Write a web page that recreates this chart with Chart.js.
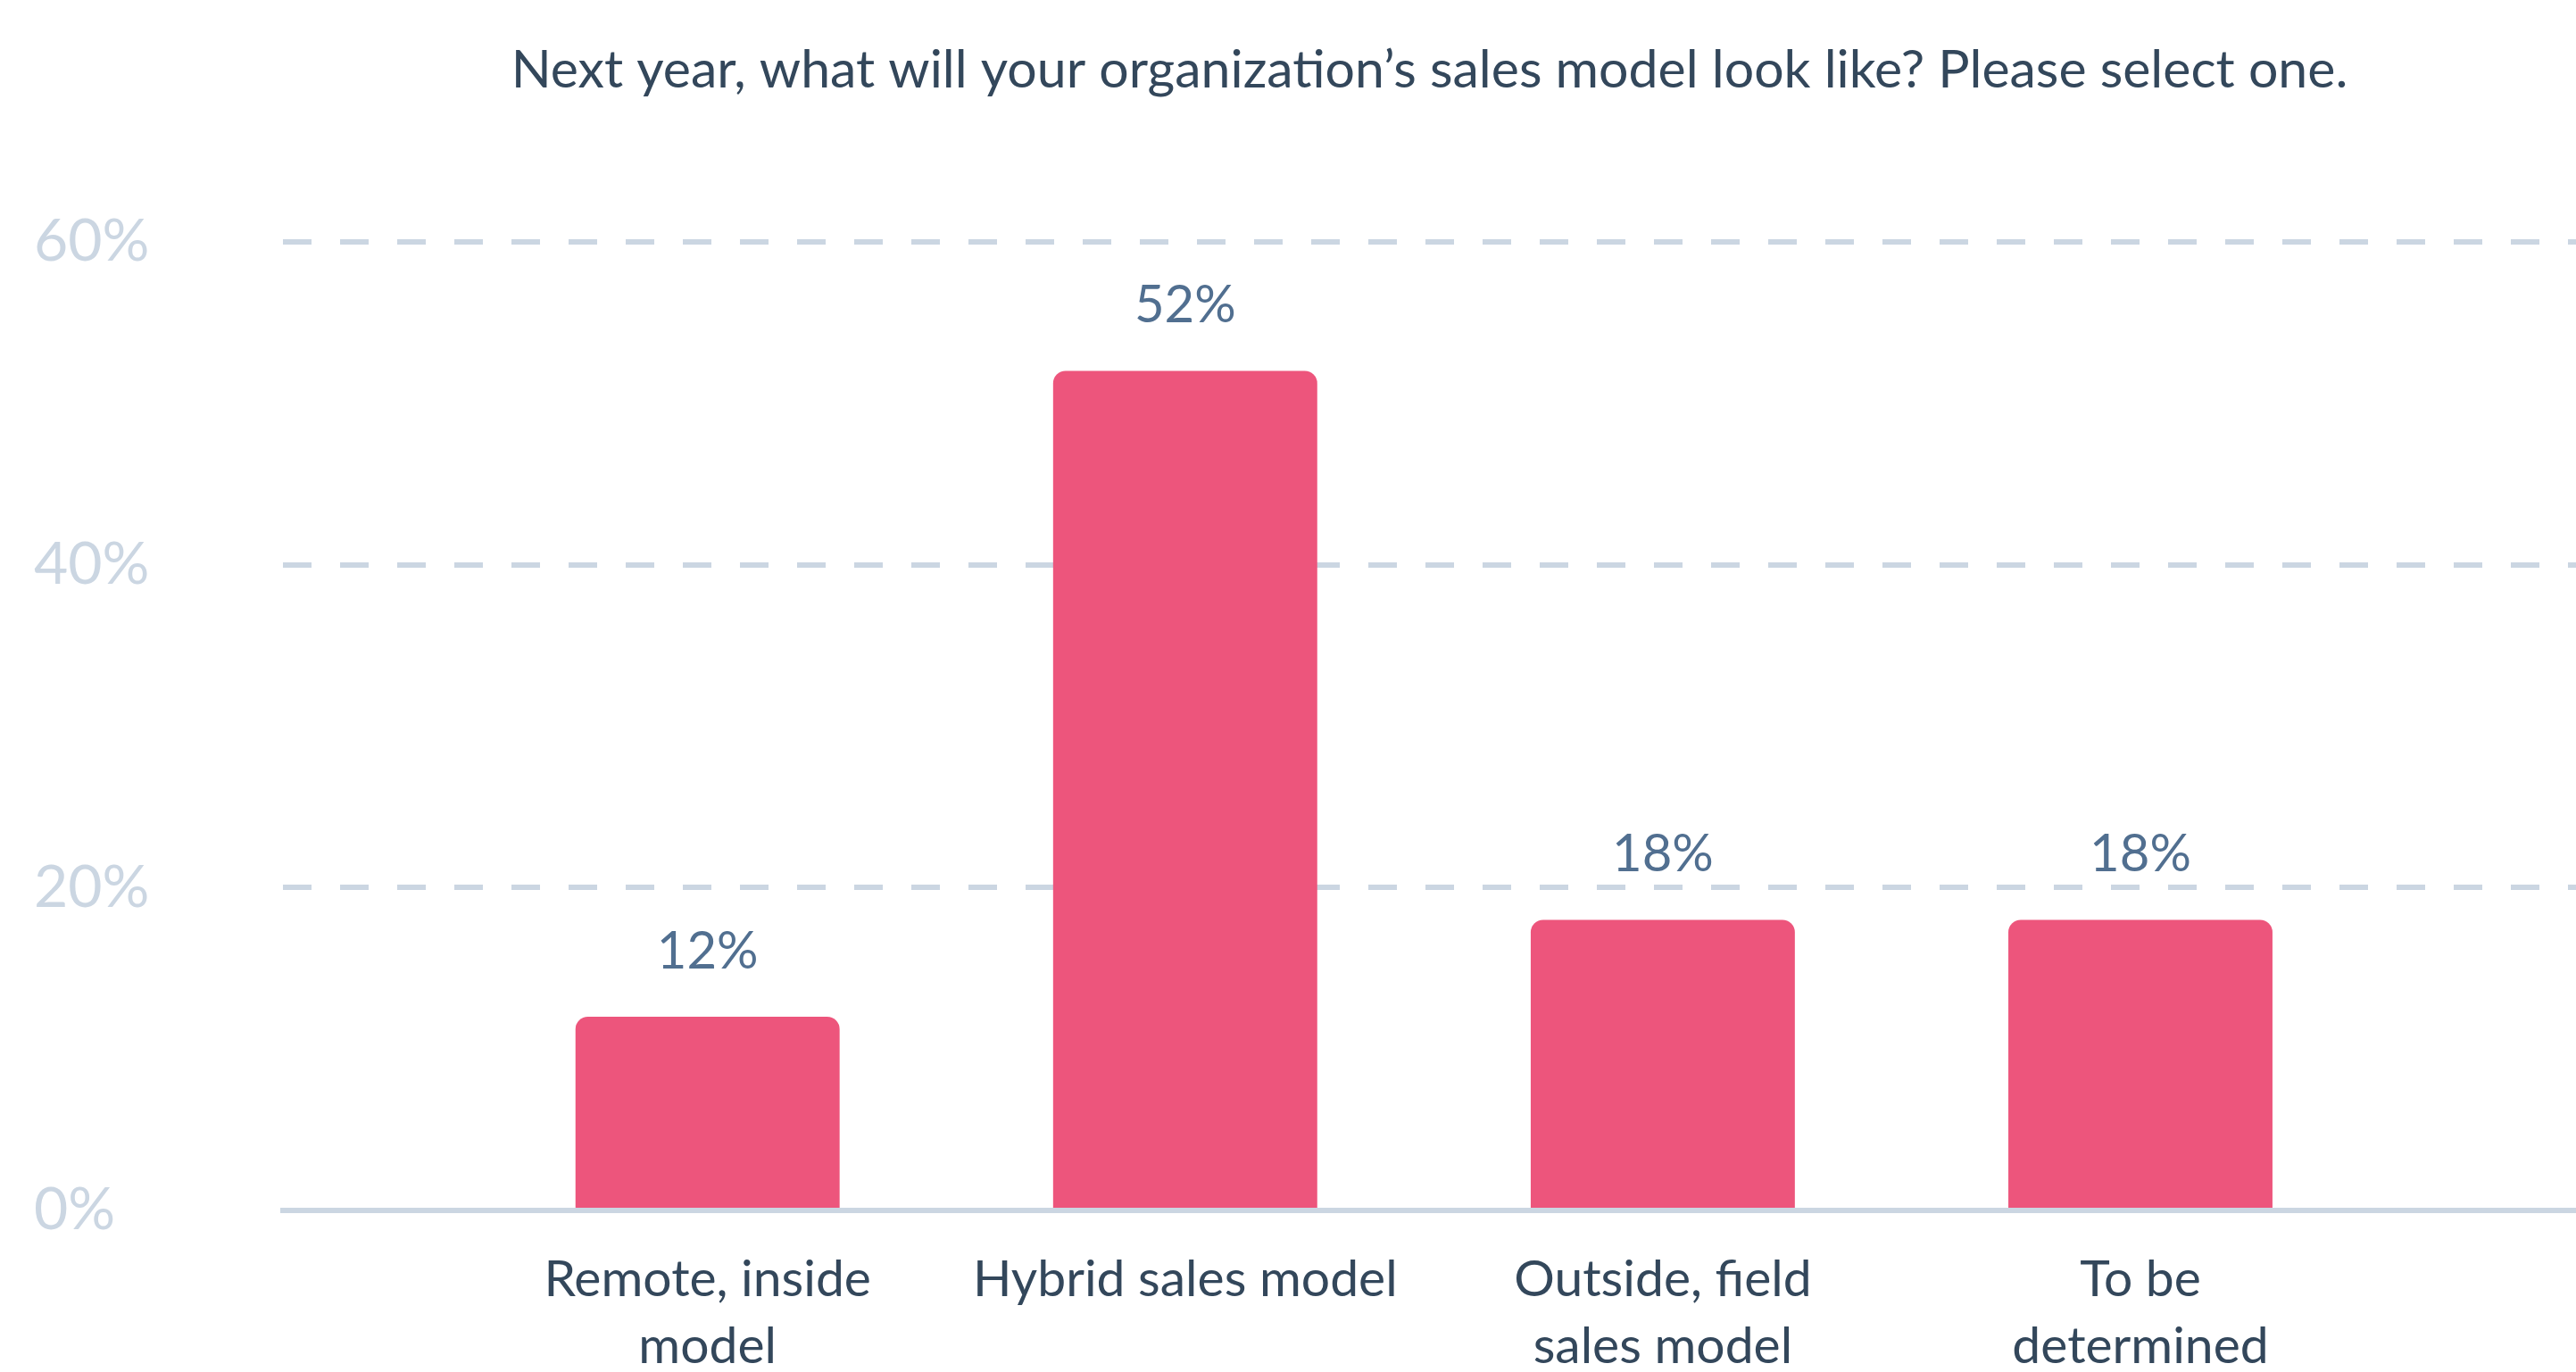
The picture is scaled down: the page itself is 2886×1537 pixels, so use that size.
<!DOCTYPE html>
<html>
<head>
<meta charset="utf-8">
<title>Sales model next year</title>
<script src="https://cdn.jsdelivr.net/npm/chart.js@4.4.1/dist/chart.umd.min.js"></script>
<style>
  html, body { margin: 0; padding: 0; background: #fff; }
  #wrap { width: 2886px; height: 1537px; }
</style>
</head>
<body>
<div id="wrap"><canvas id="salesChart"></canvas></div>
<script>
const chartTitle = 'Next year, what will your organization’s sales model look like? Please select one.';
const categories = [
  ['Remote, inside', 'model'],
  ['Hybrid sales model'],
  ['Outside, field', 'sales model'],
  ['To be', 'determined']
];
const shares = [12, 52, 18, 18];
const yMax = 60;
const yStep = 20;

const FONT = 'Lato, "Open Sans", sans-serif';
const navy = '#33475b';
const slate = '#516f90';
const lightGrey = '#cbd6e2';
const barPink = '#ed557c';

// percent labels above each bar
const valueLabels = {
  id: 'valueLabels',
  afterDatasetsDraw(chart) {
    const ctx = chart.ctx;
    const meta = chart.getDatasetMeta(0);
    ctx.save();
    ctx.font = `58px ${FONT}`;
    ctx.fillStyle = slate;
    ctx.textAlign = 'center';
    ctx.textBaseline = 'alphabetic';
    meta.data.forEach((bar, i) => {
      ctx.fillText(shares[i] + '%', bar.x, bar.y - 54);
    });
    ctx.restore();
  }
};

const ctx = document.getElementById('salesChart').getContext('2d');
const chart = new Chart(ctx, {
  type: 'bar',
  data: {
    datasets: [{
      data: shares.map((v, i) => ({ x: i, y: v })),
      backgroundColor: barPink,
      borderRadius: { topLeft: 14, topRight: 14 },
      borderSkipped: 'start',
      categoryPercentage: 0.553,
      barPercentage: 1
    }]
  },
  options: {
    responsive: true,
    maintainAspectRatio: false,
    animation: false,
    layout: { padding: { left: 38, right: 0, top: 0, bottom: 0 } },
    plugins: {
      legend: { display: false },
      tooltip: { enabled: false },
      title: {
        display: true,
        text: chartTitle,
        fullSize: false,
        color: navy,
        font: { family: FONT, size: 59, weight: 'normal' },
        padding: { top: 44, bottom: 156 }
      }
    },
    scales: {
      x: {
        type: 'linear',
        offset: false,
        min: -0.889,
        max: 3.912,
        grid: { display: false, drawTicks: false },
        border: { display: true, color: lightGrey, width: 6 },
        ticks: {
          stepSize: 1,
          includeBounds: false,
          autoSkip: false,
          maxRotation: 0,
          padding: 41,
          color: navy,
          font: { family: FONT, size: 57, lineHeight: 1.3 },
          callback: v => categories[v] ?? ''
        },
        afterFit: s => {
          // labels may hang past the plot edges, as in the original
          s.paddingLeft = 0;
          s.paddingRight = 0;
          s.height = 181;
        }
      },
      y: {
        min: 0,
        max: yMax,
        grid: {
          color: c => c.tick.value === 0 ? 'rgba(0,0,0,0)' : lightGrey,
          lineWidth: 6,
          drawTicks: false
        },
        border: { display: false, dash: [32, 32] },
        ticks: {
          stepSize: yStep,
          padding: 0,
          crossAlign: 'far',
          color: lightGrey,
          font: { family: FONT, size: 66 },
          callback: v => v + '%'
        },
        afterFit: s => { s.width = 279; }
      }
    }
  },
  plugins: [valueLabels]
});
</script>
</body>
</html>
